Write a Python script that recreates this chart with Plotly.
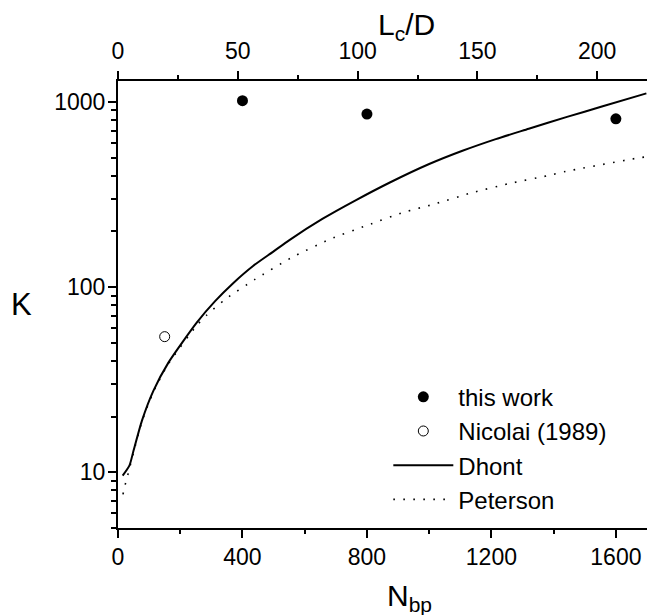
import plotly.graph_objects as go

# ---- data ----
this_work_N = [400, 800, 1600]
this_work_K = [1015, 860, 810]

nicolai_N = [150]
nicolai_K = [54]

dhont_N = [15, 37, 50, 77, 114, 162, 253, 312, 370, 434, 498, 552, 658, 765, 872,
           1000, 1107, 1214, 1320, 1443, 1555, 1698]
dhont_K = [9.6, 10.9, 13.1, 19.0, 27.6, 39.1, 64.3, 84, 105, 130, 155, 180, 234, 295, 366,
           462, 545, 630, 716, 830, 944, 1112]

peterson_N = [16, 23, 31, 50, 77, 114, 162, 253, 285, 347, 440, 557, 680, 802, 920,
              1011, 1134, 1256, 1379, 1438, 1681, 1700]
peterson_K = [7.6, 8.55, 9.6, 12.8, 18.8, 27.2, 38.5, 62, 70.6, 86.5, 110, 144, 181, 216, 254,
              279, 322, 362, 399, 421, 501, 505]

BP_PER_LCD = 7.7
x_bottom_ticks = [0, 400, 800, 1200, 1600]
x_bottom_minor = [200, 600, 1000, 1400]
x_top_ticks = [0, 50, 100, 150, 200]
x_top_minor = [25, 75, 125, 175]
y_ticks = [10, 100, 1000]
y_minor = [5, 6, 7, 8, 9, 20, 30, 40, 50, 60, 70, 80, 90,
           200, 300, 400, 500, 600, 700, 800, 900]

FONT = "Liberation Sans, Arial, sans-serif"

fig = go.Figure()
fig.add_trace(go.Scatter(x=this_work_N, y=this_work_K, mode="markers", name="this work",
                         marker=dict(symbol="circle", size=11, color="black")))
fig.add_trace(go.Scatter(x=nicolai_N, y=nicolai_K, mode="markers", name="Nicolai (1989)",
                         marker=dict(symbol="circle-open", size=10, color="black",
                                     line=dict(width=1, color="black"))))
fig.add_trace(go.Scatter(x=dhont_N, y=dhont_K, mode="lines", name="Dhont",
                         line=dict(color="black", width=2, shape="spline", smoothing=0.6)))
fig.add_trace(go.Scatter(x=peterson_N, y=peterson_K, mode="lines", name="Peterson",
                         line=dict(color="black", width=1.6, dash="1.6px,8.4px",
                                   shape="spline", smoothing=0.6)))
# invisible trace to activate the top axis
fig.add_trace(go.Scatter(x=[n / BP_PER_LCD for n in this_work_N], y=this_work_K,
                         xaxis="x2", mode="markers", marker=dict(opacity=0),
                         showlegend=False, hoverinfo="skip"))

axis_common = dict(showgrid=False, zeroline=False, showline=True, linecolor="black",
                   linewidth=2, ticks="outside", tickcolor="black", tickwidth=1.5,
                   ticklen=8, tickfont=dict(family=FONT, size=23, color="black"))

fig.update_layout(
    width=648, height=615,
    margin=dict(l=118, r=1, t=81, b=87),
    paper_bgcolor="white", plot_bgcolor="white",
    font=dict(family=FONT, color="black"),
    xaxis=dict(range=[0, 1700], tickvals=x_bottom_ticks,
               minor=dict(tickvals=x_bottom_minor, ticks="outside", ticklen=4,
                          tickcolor="black", tickwidth=1.5),
               ticklabelstandoff=-1, **axis_common),
    xaxis2=dict(range=[0, 1700 / BP_PER_LCD], overlaying="x", side="top", anchor="y",
                tickvals=x_top_ticks,
                minor=dict(tickvals=x_top_minor, ticks="outside", ticklen=4,
                           tickcolor="black", tickwidth=1.5),
                ticklabelstandoff=3, **axis_common),
    yaxis=dict(type="log", range=[0.699, 3.113], tickvals=y_ticks,
               ticktext=[str(v) for v in y_ticks],
               minor=dict(tickvals=y_minor, ticks="outside", ticklen=5,
                          tickcolor="black", tickwidth=1.5),
               ticklabelstandoff=-2, **axis_common),
    legend=dict(x=0.511, y=0.343, xanchor="left", yanchor="top",
                font=dict(family=FONT, size=24, color="black"),
                bgcolor="rgba(0,0,0,0)", itemwidth=60, tracegroupgap=0),
    showlegend=True,
)

fig.add_annotation(text="K", xref="paper", yref="paper", x=-0.182, y=0.5,
                   xanchor="center", yanchor="middle", showarrow=False,
                   font=dict(family=FONT, size=31, color="black"))
fig.add_annotation(text="N<sub>bp</sub>", xref="paper", yref="paper", x=0.505, y=-0.11,
                   xanchor="left", yanchor="top", showarrow=False,
                   font=dict(family=FONT, size=30, color="black"))
fig.add_annotation(text="L<sub>c</sub>/D", xref="paper", yref="paper", x=0.488, y=1.075,
                   xanchor="left", yanchor="bottom", showarrow=False,
                   font=dict(family=FONT, size=30, color="black"))

fig.write_html("out.html", config={"displayModeBar": False},
               post_script="document.body.style.margin='0';document.body.style.padding='0';document.body.style.overflow='hidden';")
